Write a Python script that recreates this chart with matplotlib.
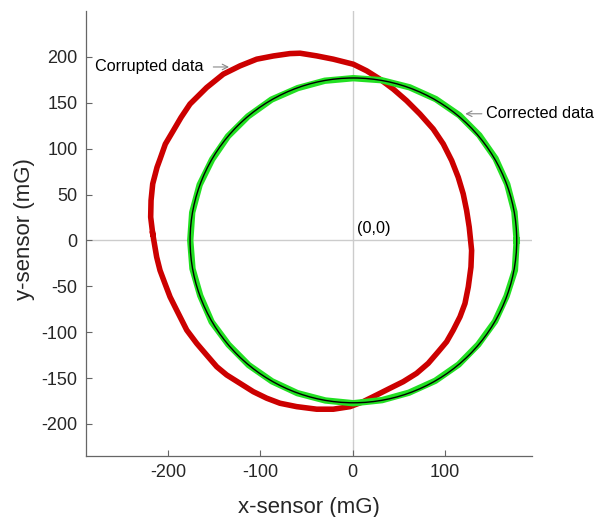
import matplotlib.pyplot as plt
from matplotlib.patches import Circle

plt.rcParams['font.family'] = ['Liberation Sans', 'DejaVu Sans']
plt.rcParams['axes.unicode_minus'] = False

# raw magnetometer readings (mG), traced around the loop
raw_x = [-216.7, -212.4, -208.8, -203.4, -197.9, -190.7, -179.8, -169.0, -158.2,
         -147.3, -136.5, -122.1, -107.7, -93.2, -78.8, -60.7, -39.0, -21.0, -2.9,
         11.5, 26.0, 40.4, 54.8, 69.3, 81.9, 92.7, 101.8, 109.0, 116.3, 121.7,
         125.3, 128.2, 128.9, 127.8, 126.3, 123.5, 119.8, 114.4, 107.3, 98.2,
         87.3, 72.9, 58.5, 44.0, 29.6, 15.2, 0.7, -21.0, -39.0, -57.0, -68.0,
         -86.0, -104.0, -122.1, -140.2, -158.2, -176.3, -186.0, -194.4, -203.0,
         -208.7, -212.0, -216.7, -218.5, -218.9, -216.7]
raw_y = [7.2, -18.2, -32.6, -47.1, -61.6, -76.1, -97.8, -112.3, -125.0,
         -137.7, -146.7, -155.8, -164.9, -172.0, -177.5, -181.2, -184.0, -184.0,
         -181.2, -175.7, -168.5, -161.2, -154.0, -144.9, -134.0, -121.4, -110.5,
         -97.8, -83.3, -68.8, -50.7, -29.0, -10.9, 0.0, 14.5, 32.6, 50.7, 68.8,
         87.0, 105.1, 121.4, 137.7, 152.2, 164.9, 175.7, 184.8, 192.0, 197.5,
         201.1, 204.0, 203.6, 201.0, 197.5, 190.2, 181.2, 166.6, 148.6, 134.0,
         119.6, 105.0, 88.8, 79.7, 61.6, 43.5, 25.4, 7.2]

# readings after hard/soft iron correction
cor_x = [177.7, 175.3, 167.5, 154.8, 137.2, 115.6, 90.1, 61.8, 31.2, 0.7,
         -30.2, -59.5, -87.9, -113.4, -135.1, -152.3, -165.8, -173.9, -176.0,
         -173.6, -165.2, -152.8, -134.6, -112.7, -87.4, -59.9, -29.6, 0.7, 31.9,
         61.0, 89.6, 114.9, 136.1, 154.3, 166.8, 175.8, 177.7]
cor_y = [0.0, 31.0, 61.2, 89.3, 114.6, 136.4, 154.0, 166.8, 174.6, 176.8,
         174.0, 166.0, 153.5, 135.2, 113.5, 88.2, 60.7, 30.4, 0.0, -30.9,
         -60.2, -88.9, -113.6, -135.9, -153.6, -166.5, -174.5, -177.5, -174.1,
         -166.0, -153.0, -135.3, -113.5, -88.2, -60.8, -32.6, 0.0]

# least-squares circle through the corrected data
fit_center = (0.8, 0.0)
fit_radius = 177.0

fig = plt.figure(figsize=(5.98, 5.17), dpi=100)
ax = fig.add_axes([0.1438, 0.118, 0.7453, 0.8607])

ax.axhline(0, color='#cccccc', lw=1, zorder=1)
ax.axvline(0, color='#cccccc', lw=1, zorder=1)

ax.plot(raw_x, raw_y, color='#cc0000', lw=4.0, solid_joinstyle='round', zorder=2)
ax.plot(cor_x, cor_y, color='#22e022', lw=4.6, solid_joinstyle='round', zorder=3)
ax.add_patch(Circle(fit_center, fit_radius, fill=False, ec='black', lw=1.0, zorder=4))

ax.set_xlim(-289, 194)
ax.set_ylim(-235, 250)
ax.set_xticks([-200, -100, 0, 100])
ax.set_yticks([-200, -150, -100, -50, 0, 50, 100, 150, 200])

for s in ['top', 'right']:
    ax.spines[s].set_visible(False)
for s in ['left', 'bottom']:
    ax.spines[s].set_color('#666666')
    ax.spines[s].set_linewidth(0.9)
ax.tick_params(direction='in', length=4, width=0.8, color='#666666',
               labelcolor='#262626', labelsize=13, pad=6)

ax.set_xlabel('x-sensor (mG)', fontsize=16, color='#262626')
ax.set_ylabel('y-sensor (mG)', fontsize=16, color='#262626')
ax.xaxis.set_label_coords(0.5, -0.092)
ax.yaxis.set_label_coords(-0.114, 0.51)

arrow = dict(arrowstyle='->', color='#888888', lw=0.8, shrinkA=0, shrinkB=0)
ax.text(-279, 189, 'Corrupted data', fontsize=11.7, va='center', ha='left')
ax.annotate('', xy=(-134, 189), xytext=(-151, 189), arrowprops=arrow)
ax.text(144, 138, 'Corrected data', fontsize=11.7, va='center', ha='left')
ax.annotate('', xy=(122, 138), xytext=(140, 138), arrowprops=arrow)
ax.text(4.5, 13, '(0,0)', fontsize=11.7, va='center', ha='left')

fig.savefig('out.png', dpi=100)
